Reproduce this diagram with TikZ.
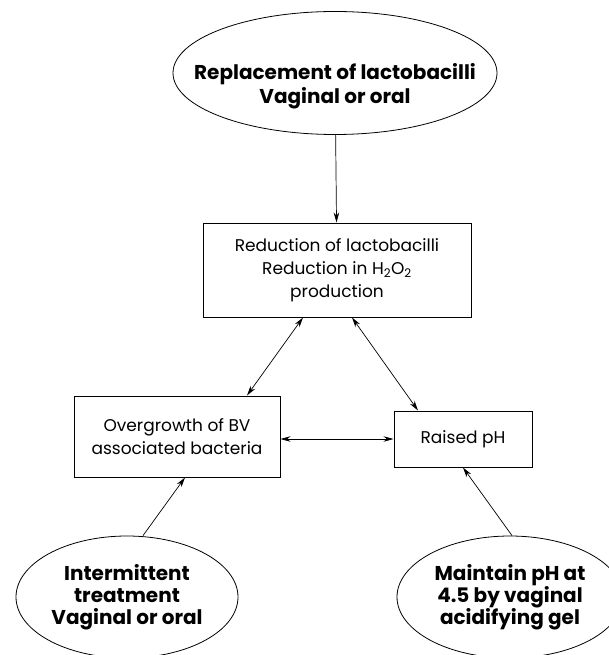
\documentclass[tikz,border=0pt]{standalone}
\usepackage{fontspec}
\setmainfont{Poppins}
\usetikzlibrary{shapes.geometric,arrows.meta}

\begin{document}
\begin{tikzpicture}[x=1pt, y=-1pt,
      box/.style = {draw, rectangle, line width=1pt, align=center, inner sep=0pt,
                    font=\fontsize{17}{23}\selectfont},
      oval/.style = {draw, ellipse, line width=0.8pt, align=center, inner sep=0pt,
                     font=\bfseries\fontsize{20}{22}\selectfont},
      link/.style = {line width=0.7pt, -{Stealth[length=10pt,width=5.5pt]}},
      both/.style = {line width=0.7pt, {Stealth[length=10pt,width=5.5pt]}-{Stealth[length=10pt,width=5.5pt]}}]
  \useasboundingbox (0,0) rectangle (609,655);
  \clip (0,0) rectangle (609,655);
  % treatments
  \node[oval, minimum width=324, minimum height=123, text height=66pt, inner xsep=-30pt,
        font=\bfseries\fontsize{20}{24}\selectfont] (repl) at (335,73)
        {Replacement of lactobacilli\\Vaginal or oral};
  \node[oval, minimum width=222, minimum height=122] (interm) at (127,597)
        {Intermittent\\treatment\\Vaginal or oral};
  \node[oval, minimum width=226, minimum height=122] (maint) at (510,597)
        {Maintain pH at\\4.5 by vaginal\\acidifying gel};
  % conditions
  \node[box, minimum width=268, minimum height=94] (reduc) at (337,270)
        {Reduction of lactobacilli\\Reduction in H\textsubscript{2}O\textsubscript{2}\\production};
  \node[box, minimum width=206, minimum height=81] (over) at (177,436.5)
        {Overgrowth of BV\\associated bacteria};
  \node[box, minimum width=138, minimum height=56] (raise) at (463,439)
        {Raised pH};
  % connectors
  \draw[link] (repl) -- (reduc);
  \draw[both] ([xshift=-34]reduc.south) -- ([xshift=70]over.north);
  \draw[both] ([xshift=15]reduc.south) -- ([xshift=-45]raise.north);
  \draw[both] (over.east |- raise.west) -- (raise.west);
  \draw[link] ([xshift=16]interm.north) -- ([xshift=8]over.south);
  \draw[link] ([xshift=2]maint.north) -- (raise.south);
\end{tikzpicture}
\end{document}
